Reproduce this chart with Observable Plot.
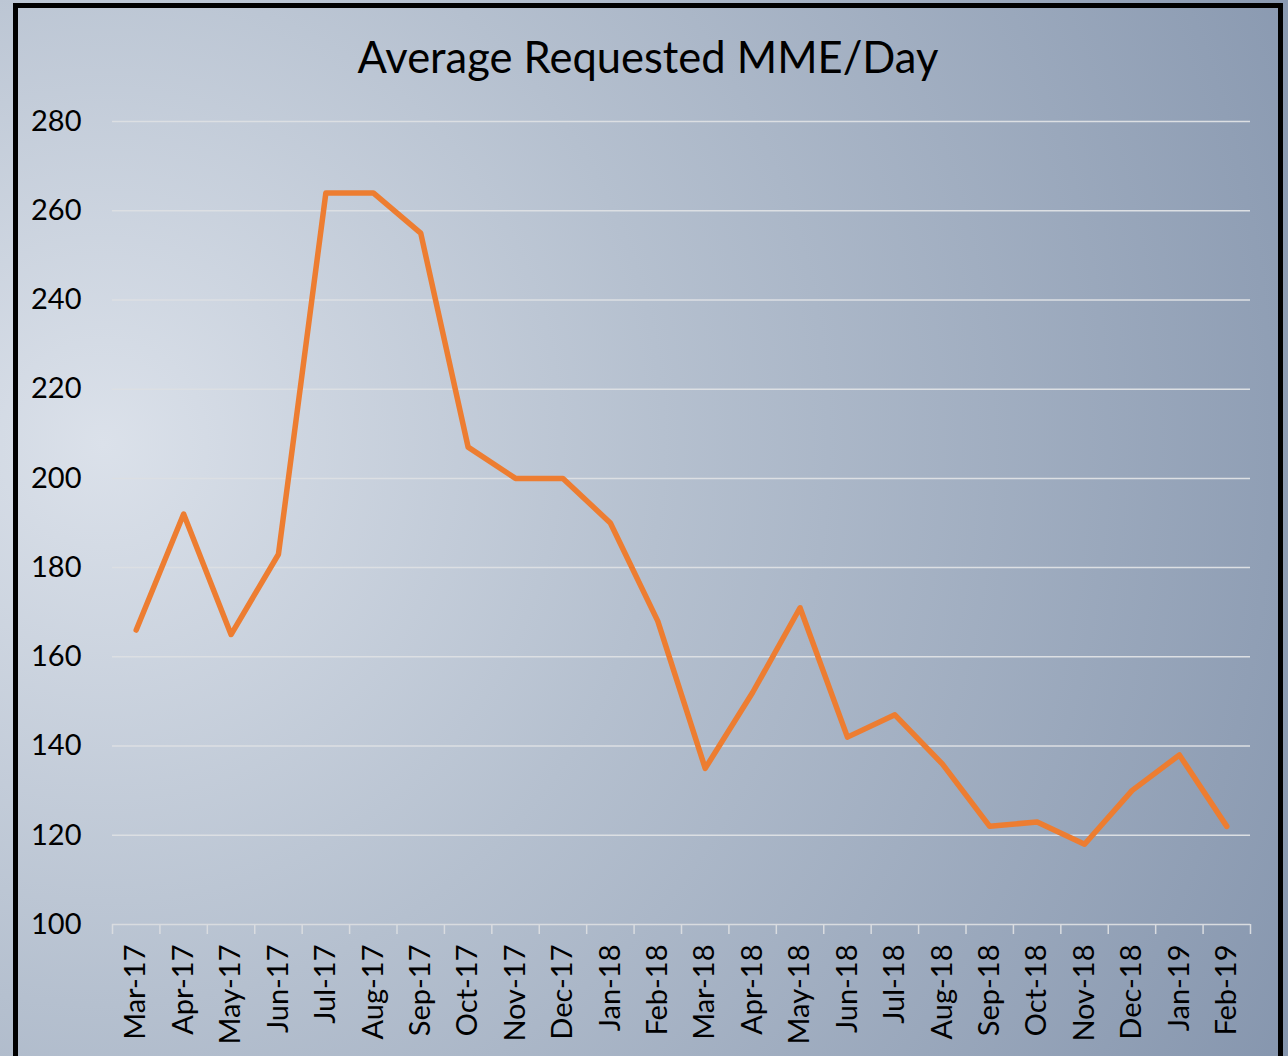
<!DOCTYPE html>
<html><head><meta charset="utf-8">
<script src="https://cdn.jsdelivr.net/npm/d3@7"></script>
<script src="https://cdn.jsdelivr.net/npm/@observablehq/plot@0.6"></script>
<style>
html,body{margin:0;padding:0;width:1288px;height:1056px;overflow:hidden;}
body{position:relative;font-family:Lato,sans-serif;
 background:radial-gradient(circle farthest-corner at 8% 42%, #dbe1ea 0%, #b5c0cf 42%, #8696ae 100%);}
#frame{position:absolute;left:13px;top:3px;width:1270px;height:1200px;box-sizing:border-box;border:5px solid #000;}
#title{position:absolute;left:0;top:35px;width:1296px;text-align:center;font-size:43.5px;line-height:1;color:#000;}
#chart{position:absolute;left:0;top:0;}
</style></head>
<body>
<div id="frame"></div>
<div id="title">Average Requested MME/Day</div>
<div id="chart"></div>
<script>
const months = ["Mar-17","Apr-17","May-17","Jun-17","Jul-17","Aug-17","Sep-17","Oct-17","Nov-17","Dec-17","Jan-18","Feb-18","Mar-18","Apr-18","May-18","Jun-18","Jul-18","Aug-18","Sep-18","Oct-18","Nov-18","Dec-18","Jan-19","Feb-19"];
const values = [166,192,165,183,264,264,255,207,200,200,190,168,135,152,171,142,147,136,122,123,118,130,138,122];
const yTicks = [100,120,140,160,180,200,220,240,260,280];

const W = 1288, H = 1056, ml = 112, mr = 38, mt = 121, mb = 132;
const step = (W - ml - mr) / months.length;
const data = months.map((m, i) => ({month: m, value: values[i]}));

const chart = Plot.plot({
  width: W, height: H,
  marginLeft: ml, marginRight: mr, marginTop: mt, marginBottom: mb,
  style: {background: "transparent", fontFamily: "Lato, sans-serif", color: "#000", overflow: "visible"},
  x: {type: "point", domain: months, padding: 0.5, round: false},
  y: {domain: [100, 280]},
  marks: [
    Plot.gridY(yTicks.slice(1), {stroke: "#dcdfe3", strokeOpacity: 1, strokeWidth: 1.5}),
    Plot.axisY(yTicks, {tickSize: 0, tickPadding: 31, fontSize: 29, label: null}),
    Plot.ruleY([100], {stroke: "#d9dce0", strokeWidth: 1.5}),
    Plot.axisX({tickSize: 10, tickFormat: () => "", dx: -step / 2, stroke: "#d9dce0", strokeWidth: 1.5, label: null}),
    Plot.axisX([months[months.length - 1]], {tickSize: 10, tickFormat: () => "", dx: step / 2, stroke: "#d9dce0", strokeWidth: 1.5, label: null}),
    Plot.axisX({tickSize: 0, tickRotate: -90, tickPadding: 20, fontSize: 29, label: null}),
    Plot.line(data, {x: "month", y: "value", stroke: "#ED7D31", strokeWidth: 5.5})
  ]
});
document.getElementById("chart").appendChild(chart);
</script>
</body></html>
